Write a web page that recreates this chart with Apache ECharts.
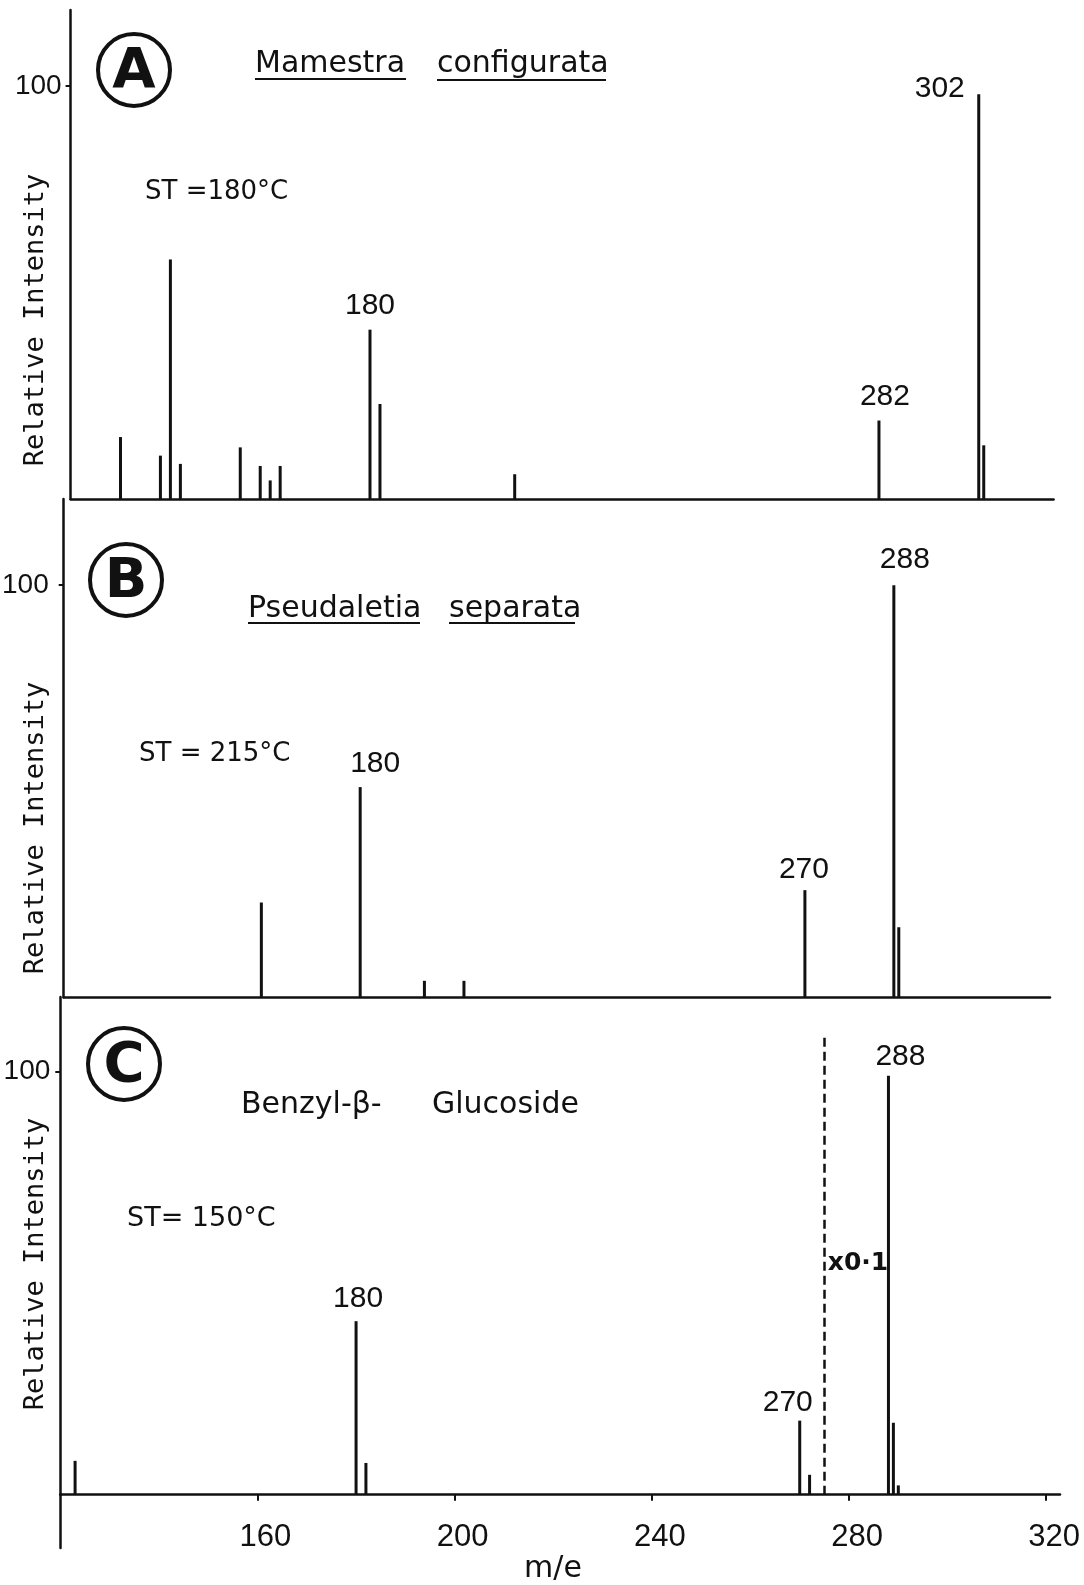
<!DOCTYPE html>
<html>
<head>
<meta charset="utf-8">
<script src="https://cdn.jsdelivr.net/npm/echarts@6/dist/echarts.min.js"></script>
<style>
html,body{margin:0;padding:0;background:#fff;}
#chart{width:1084px;height:1585px;}
</style>
</head>
<body>
<div id="chart"></div>
<script>
// ---------------- data ----------------
// Panel A : Mamestra configurata, ST = 180 C
const mzA  = [130, 138, 140, 142, 154, 158, 160, 162, 180, 182, 209, 282, 302, 303];
const intA = [15, 10.5, 58, 8.5, 12.5, 8, 4.5, 8, 41, 23, 6, 19, 98, 13];
const labelledA = [180, 282, 302];
// Panel B : Pseudaletia separata, ST = 215 C
const mzB  = [160, 180, 193, 201, 270, 288, 289];
const intB = [23, 51, 4, 4, 26, 100, 17];
const labelledB = [180, 270, 288];
// Panel C : Benzyl-beta-Glucoside, ST = 150 C
const mzC  = [123, 180, 182, 270, 272, 288, 289, 290];
const intC = [8, 41, 7.5, 17.5, 4.7, 99, 17, 2.2];
const labelledC = [180, 270, 288];
// scale change marker in panel C (dashed line, x0.1 region)
const breakMz = 275;
const breakTop = 108;
// axis ticks
const xTickValues = [160, 200, 240, 280, 320];
const yTickValues = [100];
const xMin = 120;

// ---------------- styling / layout ----------------
const ink = '#111';
const panels = [
  {left: 70.6, top: 10,  width: 983,   height: 489,   xMax: 317,   yMax: 118.4, yLabMargin: 9},
  {left: 63.7, top: 499, width: 986.3, height: 498.3, xMax: 319.6, yMax: 120.9, yLabMargin: 15},
  {left: 60.3, top: 997, width: 999.7, height: 497.7, xMax: 322.8, yMax: 117.6, yLabMargin: 10}
];
// label nudges (pixels) for the annotated peaks
const nudges = [
  {180: [0, -2], 282: [6, -2], 302: [-39, 16]},
  {180: [15, -1], 270: [-1, 2], 288: [11, -3]},
  {180: [2, 0], 270: [-12, 4], 288: [12, 3]}
];

const grids = panels.map(p => ({left: p.left, top: p.top, width: p.width, height: p.height,
                                 containLabel: false, outerBoundsMode: 'none'}));
// short stub of the intensity axis below the m/e axis in panel C
grids.push({left: 60.3, top: 1494.7, width: 20, height: 53.3, containLabel: false, outerBoundsMode: 'none'});

const xAxes = panels.map((p, i) => ({
  type: 'value', gridIndex: i, min: xMin, max: p.xMax,
  axisLine: {show: true, onZero: false, lineStyle: {color: ink, width: 2.5}},
  splitLine: {show: false},
  axisTick: i === 2 ? {show: true, inside: false, length: 6, lineStyle: {color: ink, width: 2}, customValues: xTickValues}
                    : {show: false},
  axisLabel: i === 2 ? {show: true, customValues: xTickValues, margin: 27, color: ink,
                        fontFamily: 'Liberation Sans', fontSize: 31, padding: [0, 0, 0, 16]}
                     : {show: false}
}));
xAxes.push({type: 'value', gridIndex: 3, min: 0, max: 1, show: false});

const yAxes = panels.map((p, i) => ({
  type: 'value', gridIndex: i, min: 0, max: p.yMax,
  axisLine: {show: true, onZero: false, lineStyle: {color: ink, width: 2.5}},
  splitLine: {show: false},
  axisTick: {show: true, length: 5, lineStyle: {color: ink, width: 2}, customValues: yTickValues},
  axisLabel: {show: true, customValues: yTickValues, margin: p.yLabMargin, color: ink,
              fontFamily: 'Liberation Sans', fontSize: 28}
}));
yAxes.push({type: 'value', gridIndex: 3, min: 0, max: 1,
  axisLine: {show: true, onZero: false, lineStyle: {color: ink, width: 2.5}},
  axisTick: {show: false}, axisLabel: {show: false}, splitLine: {show: false}});

function peakSeries(i, mz, inten, labelled) {
  return {
    type: 'bar', xAxisIndex: i, yAxisIndex: i, barWidth: 3, silent: true,
    itemStyle: {color: ink},
    label: {show: false, position: 'top', distance: 7, color: ink, fontFamily: 'Liberation Sans', fontSize: 30},
    data: mz.map((m, k) => {
      const item = {value: [m, inten[k]]};
      if (labelled.indexOf(m) >= 0) {
        item.label = {show: true, formatter: String(m), offset: nudges[i][m] || [0, 0]};
      }
      return item;
    })
  };
}

const seriesC = peakSeries(2, mzC, intC, labelledC);
seriesC.markLine = {
  silent: true, symbol: ['none', 'none'], label: {show: false},
  lineStyle: {type: [9, 5], color: ink, width: 2.5},
  data: [[{coord: [breakMz, 0]}, {coord: [breakMz, breakTop]}]]
};

// ---------------- annotations ----------------
function txt(text, x, y, size, opts) {
  opts = opts || {};
  return {
    type: 'text', x: x, y: y, rotation: opts.rotation || 0, silent: true,
    style: {
      text: text, fill: ink, fontSize: size,
      fontFamily: opts.family || 'DejaVu Sans', fontWeight: opts.weight || 'normal',
      align: opts.align || 'left', verticalAlign: 'middle'
    }
  };
}
function ring(cx, cy) {
  return {type: 'circle', silent: true, shape: {cx: cx, cy: cy, r: 36},
          style: {fill: 'none', stroke: ink, lineWidth: 4}};
}
function underline(x1, x2, y) {
  return {type: 'line', silent: true, shape: {x1: x1, y1: y, x2: x2, y2: y},
          style: {stroke: ink, lineWidth: 2}};
}

const graphics = [
  // Panel A
  ring(134, 70), txt('A', 134, 72, 56, {align: 'center', weight: 'bold'}),
  txt('Mamestra', 255, 64, 30), underline(255, 406, 79),
  txt('configurata', 437, 64, 30), underline(437, 606, 80),
  txt('ST =180°C', 145, 192, 26),
  txt('Relative Intensity', 36, 320, 27, {align: 'center', rotation: Math.PI / 2, family: 'DejaVu Sans Mono'}),
  // Panel B
  ring(126, 580), txt('B', 126, 582, 56, {align: 'center', weight: 'bold'}),
  txt('Pseudaletia', 248, 609, 30), underline(248, 420, 623),
  txt('separata', 449, 609, 30), underline(449, 575, 623),
  txt('ST = 215°C', 139, 754, 26),
  txt('Relative Intensity', 36, 828, 27, {align: 'center', rotation: Math.PI / 2, family: 'DejaVu Sans Mono'}),
  // Panel C
  ring(124, 1064), txt('C', 124, 1066, 56, {align: 'center', weight: 'bold'}),
  txt('Benzyl-β-', 241, 1105, 30),
  txt('Glucoside', 432, 1105, 30),
  txt('ST= 150°C', 127, 1219, 27),
  txt('x0·1', 858, 1263, 25, {align: 'center', weight: 'bold'}),
  txt('Relative Intensity', 36, 1264, 27, {align: 'center', rotation: Math.PI / 2, family: 'DejaVu Sans Mono'}),
  // x axis title
  txt('m/e', 553, 1569, 30, {align: 'center'})
];

const chart = echarts.init(document.getElementById('chart'), null, {renderer: 'canvas'});
chart.setOption({
  backgroundColor: '#ffffff',
  animation: false,
  grid: grids,
  xAxis: xAxes,
  yAxis: yAxes,
  series: [
    peakSeries(0, mzA, intA, labelledA),
    peakSeries(1, mzB, intB, labelledB),
    seriesC
  ],
  graphic: {elements: graphics}
});
</script>
</body>
</html>
